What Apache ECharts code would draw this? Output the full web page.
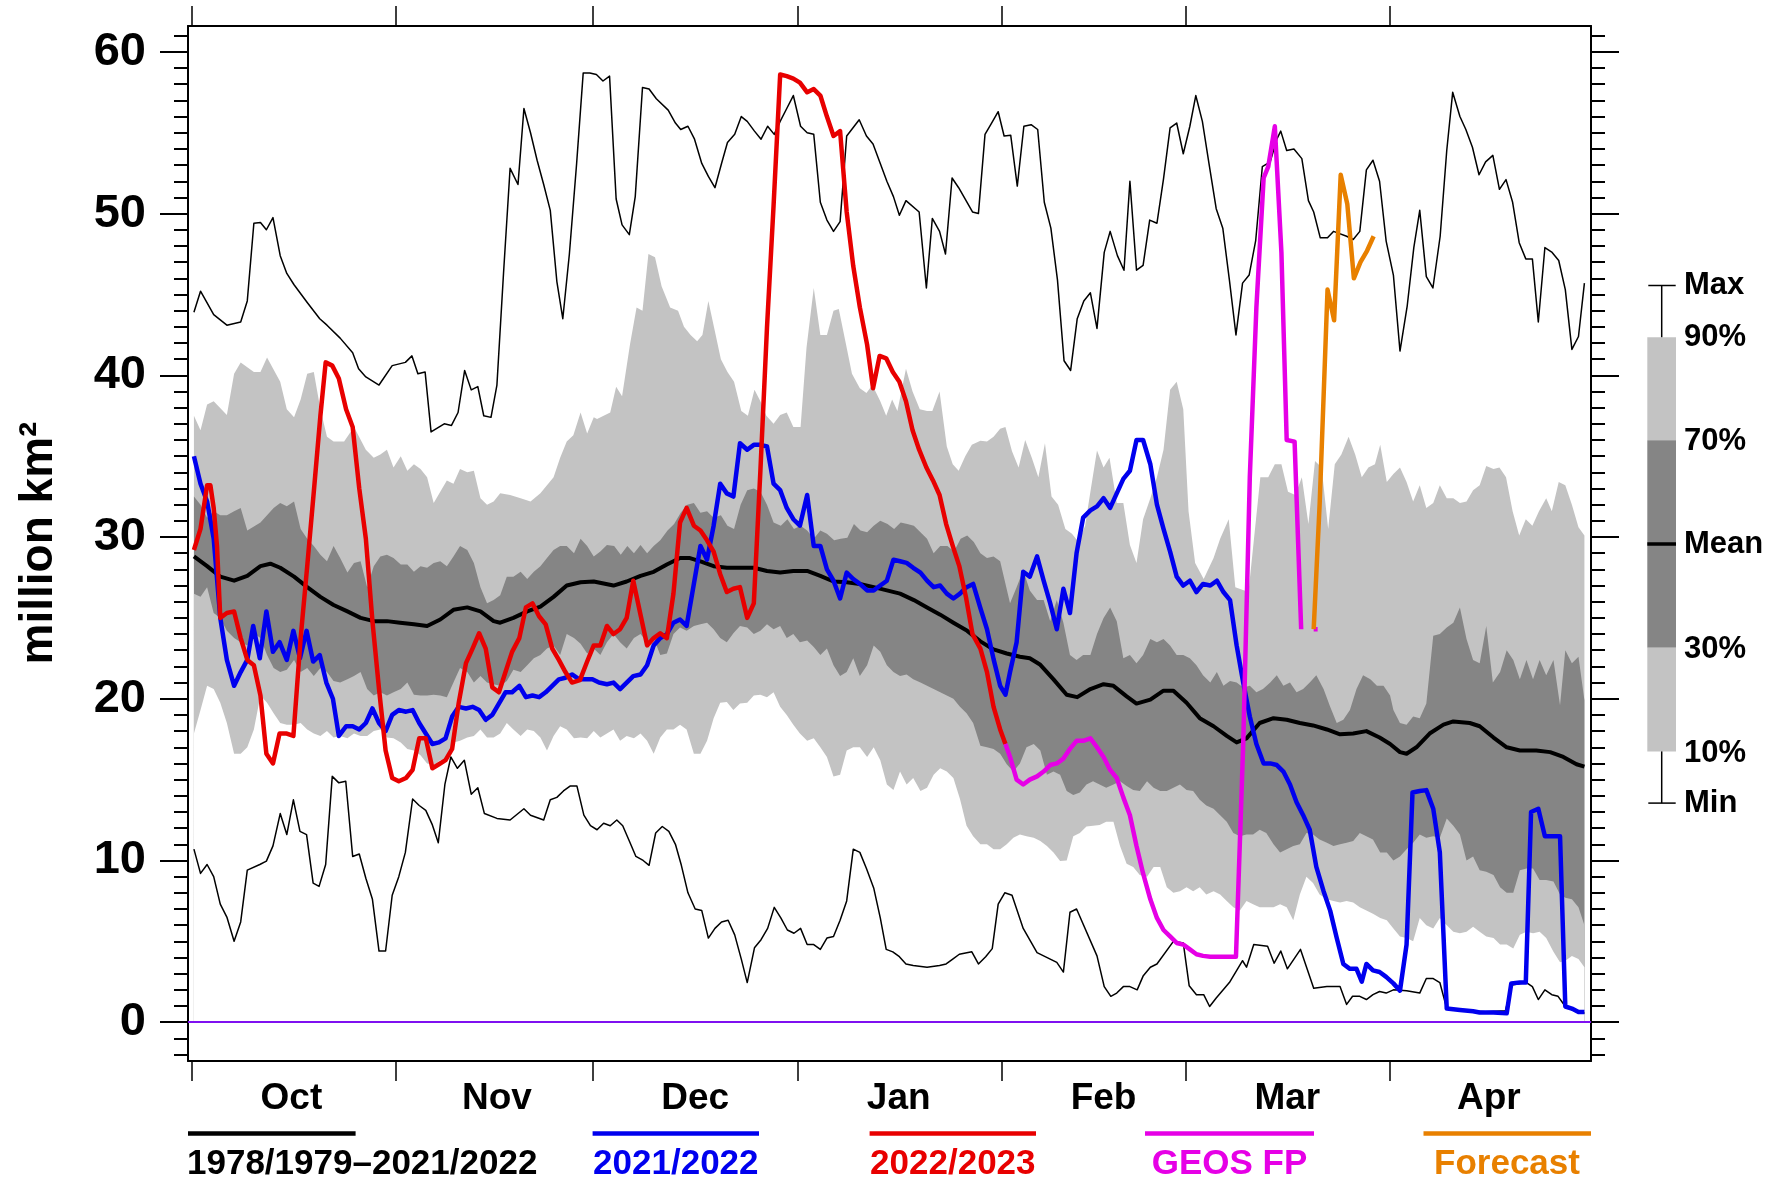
<!DOCTYPE html>
<html><head><meta charset="utf-8">
<script src="https://cdn.jsdelivr.net/npm/echarts@6/dist/echarts.min.js"></script>
<style>html,body{margin:0;padding:0;background:#fff}#c{width:1787px;height:1185px}</style>
</head><body><div id="c"></div><script>
// ---- Data (day index: Oct 1 = 1 ... Apr 30 = 212) ----
const monthNames = ['Oct','Nov','Dec','Jan','Feb','Mar','Apr'];
const monthTicks = [0.5,31.5,61.5,92.5,123.5,151.5,182.5];
const monthLabelPos = [15.7,46.9,77,107.9,139,166.9,197.5];
const yLabels = [0,10,20,30,40,50,60];
const yMinorTicks = [-2,-1,0,1,2,3,4,5,6,7,8,9,10,11,12,13,14,15,16,17,18,19,20,21,22,23,24,25,26,27,28,29,30,31,32,33,34,35,36,37,38,39,40,41,42,43,44,45,46,47,48,49,50,51,52,53,54,55,56,57,58,59,60,61];

const maxSeries = [[0.9,43.9],[1.9,45.2],[3.9,43.75],[5.9,43.1],[8.0,43.3],[9.0,44.6],[10.0,49.4],[11.0,49.45],[11.9,49.0],[12.9,49.75],[14.0,47.4],[15.0,46.3],[16.1,45.6],[18.1,44.5],[20.0,43.5],[21.1,43.1],[23.1,42.3],[25.0,41.4],[25.9,40.4],[27.0,39.9],[29.0,39.4],[31.0,40.6],[33.0,40.8],[34.0,41.2],[34.9,40.1],[36.0,40.2],[36.9,36.5],[38.9,37.0],[40.0,36.9],[41.0,37.7],[42.0,40.3],[43.0,39.1],[44.0,39.3],[44.9,37.5],[46.0,37.4],[46.9,39.4],[47.9,46.3],[48.9,52.8],[50.1,51.8],[51.0,56.5],[52.0,55.0],[53.0,53.3],[54.0,51.8],[55.0,50.2],[56.0,45.8],[56.9,43.5],[57.9,47.5],[59.0,53.1],[60.0,58.7],[61.0,58.7],[62.0,58.6],[63.0,58.2],[64.0,58.5],[65.0,50.9],[65.9,49.3],[67.0,48.7],[67.9,51.05],[69.0,57.8],[70.0,57.7],[71.1,57.1],[72.9,56.4],[74.0,55.6],[74.8,55.2],[75.9,55.4],[76.9,54.6],[78.0,53.1],[79.0,52.3],[80.0,51.6],[81.0,53.1],[81.9,54.4],[83.0,54.9],[84.0,56.0],[84.9,55.7],[86.0,55.1],[87.0,54.6],[88.0,55.4],[89.0,54.9],[89.9,55.7],[90.9,56.5],[91.9,57.3],[93.0,55.4],[94.0,55.0],[95.0,54.9],[96.0,50.7],[97.0,49.6],[98.0,48.9],[99.0,49.5],[100.0,54.8],[101.9,55.8],[103.0,54.8],[104.0,54.3],[105.1,53.1],[106.1,52.0],[107.1,51.05],[108.0,49.9],[109.0,50.8],[111.0,50.1],[112.1,45.4],[113.0,49.7],[114.1,48.9],[115.0,47.5],[116.0,52.2],[117.0,51.6],[119.1,50.1],[120.0,50.0],[121.0,54.9],[122.0,55.6],[123.0,56.3],[123.9,54.8],[124.9,54.85],[125.9,51.7],[126.9,55.4],[128.0,55.5],[129.0,55.2],[130.0,50.7],[131.0,49.1],[132.0,45.9],[133.0,40.9],[134.0,40.3],[135.0,43.5],[136.0,44.6],[137.0,45.1],[138.0,42.9],[139.1,47.6],[140.0,48.9],[141.1,47.4],[142.1,46.5],[143.0,52.0],[144.0,46.5],[145.0,46.8],[146.0,49.6],[147.1,49.4],[148.1,52.15],[149.1,55.3],[150.1,55.6],[151.1,53.7],[152.1,55.4],[153.0,57.3],[154.0,55.7],[155.0,53.1],[156.1,50.3],[157.1,49.1],[158.1,45.9],[159.1,42.5],[160.1,45.7],[161.1,46.2],[162.1,48.35],[163.1,52.9],[164.3,53.2],[165.3,54.6],[165.9,55.1],[166.8,53.9],[167.9,54.0],[169.1,53.4],[170.1,50.8],[170.9,50.1],[171.9,48.5],[173.0,48.5],[173.9,48.9],[175.9,48.6],[176.9,48.4],[177.9,48.9],[178.9,52.7],[179.9,53.3],[180.9,52.0],[181.9,48.3],[183.0,46.2],[184.0,41.5],[185.1,44.3],[186.1,47.9],[187.0,50.2],[188.0,46.1],[189.0,45.4],[190.1,48.6],[191.1,53.9],[192.0,57.5],[193.1,56.0],[194.0,55.2],[195.0,54.1],[196.0,52.4],[197.0,53.2],[198.1,53.6],[199.1,51.5],[200.1,52.1],[201.1,50.7],[202.1,48.2],[203.1,47.2],[204.1,47.2],[205.0,43.3],[206.0,47.9],[207.1,47.6],[208.1,47.1],[209.1,45.3],[210.1,41.6],[211.1,42.4],[212.0,45.7]];

const minSeries = [[0.9,10.7],[1.9,9.2],[2.9,9.75],[3.9,9.0],[4.9,7.3],[5.9,6.5],[7.0,5.0],[8.0,6.2],[9.0,9.4],[10.9,9.75],[11.9,9.96],[12.9,10.9],[14.0,12.9],[15.0,11.6],[16.0,13.75],[17.0,11.8],[18.0,11.6],[19.0,8.6],[19.9,8.4],[20.9,9.75],[21.9,15.2],[22.9,14.8],[23.95,14.9],[25.0,10.25],[26.0,10.4],[27.0,8.9],[28.0,7.6],[29.0,4.4],[30.0,4.4],[31.0,7.85],[32.0,9.0],[33.0,10.5],[34.1,13.8],[35.1,13.4],[36.1,13.1],[37.1,12.2],[38.0,11.1],[39.0,14.7],[39.9,16.4],[40.9,15.7],[41.95,16.2],[43.0,14.1],[44.0,14.5],[45.0,12.9],[46.9,12.6],[48.9,12.5],[51.0,13.2],[52.0,12.8],[54.0,12.5],[55.0,13.75],[56.0,13.9],[57.0,14.3],[58.0,14.6],[59.05,14.6],[60.1,12.8],[61.1,12.15],[62.1,11.9],[63.1,12.3],[64.1,12.15],[65.1,12.5],[66.0,12.15],[67.0,11.2],[68.0,10.25],[69.1,10.0],[70.0,9.7],[71.0,11.7],[72.0,12.1],[73.0,11.8],[74.0,11.0],[74.9,9.7],[75.9,8.0],[77.0,7.0],[78.0,6.9],[79.0,5.2],[80.0,5.8],[81.0,6.2],[82.0,6.3],[83.0,5.4],[84.0,3.9],[84.9,2.45],[86.0,4.6],[87.0,5.1],[88.0,5.8],[89.0,7.1],[90.0,6.45],[91.0,5.7],[92.0,5.5],[93.0,5.8],[94.0,4.8],[95.0,4.8],[96.0,4.5],[97.0,5.2],[98.0,5.3],[99.0,6.3],[100.0,7.5],[101.0,10.7],[102.0,10.5],[103.0,9.5],[104.1,8.3],[105.1,6.45],[106.0,4.5],[107.0,4.35],[108.0,4.05],[109.0,3.6],[110.1,3.5],[112.2,3.4],[114.1,3.5],[115.1,3.6],[116.1,3.9],[117.1,4.2],[119.0,4.35],[120.0,3.6],[121.1,4.05],[122.1,4.55],[123.0,7.3],[124.0,8.0],[125.1,7.85],[126.8,5.8],[128.9,4.3],[129.9,4.1],[131.9,3.7],[132.9,3.1],[133.9,6.8],[134.9,7.0],[138.0,4.1],[139.1,2.2],[140.1,1.6],[141.0,1.8],[142.0,2.2],[143.0,2.2],[144.1,2.0],[145.0,2.85],[146.1,3.4],[147.1,3.6],[149.6,5.0],[151.1,4.9],[152.0,2.25],[153.1,1.7],[154.2,1.7],[155.1,0.97],[156.1,1.5],[158.1,2.45],[160.1,3.8],[160.7,3.4],[161.8,4.8],[163.9,4.7],[164.9,3.65],[165.9,4.4],[166.9,3.3],[168.9,4.5],[170.9,2.1],[172.9,2.2],[174.9,2.2],[175.9,1.1],[176.8,1.6],[177.9,1.6],[178.9,1.4],[179.9,1.7],[180.9,1.9],[181.9,1.8],[183.0,2.0],[185.0,1.95],[187.0,1.8],[188.0,2.7],[189.05,2.7],[190.05,2.45],[191.1,0.84],[194.0,0.7],[197.0,0.65],[200.0,0.7],[201.0,2.3],[203.2,2.45],[204.1,2.2],[205.0,1.4],[206.0,2.0],[207.05,1.7],[208.0,1.6],[209.1,0.97],[210.1,0.76],[211.1,0.68],[212.0,0.55]];

const meanSeries = [[0.9,28.8],[2.9,28.2],[4.9,27.55],[7.0,27.3],[9.0,27.6],[11.0,28.2],[12.5,28.35],[14.0,28.1],[16.1,27.55],[18.1,26.9],[20.1,26.3],[22.1,25.8],[24.2,25.4],[26.2,25.0],[28.2,24.8],[30.2,24.8],[32.2,24.7],[34.3,24.6],[36.3,24.5],[38.3,24.9],[40.3,25.5],[42.4,25.65],[44.4,25.4],[46.4,24.8],[47.4,24.7],[49.4,25.0],[51.5,25.4],[53.5,25.7],[55.5,26.3],[57.5,27.0],[59.6,27.2],[61.6,27.25],[64.6,27.0],[66.6,27.25],[68.7,27.6],[70.7,27.85],[72.7,28.3],[74.7,28.7],[76.2,28.7],[77.8,28.5],[79.8,28.2],[81.8,28.1],[83.9,28.1],[85.9,28.1],[87.9,27.9],[89.9,27.8],[91.9,27.9],[94.0,27.9],[96.0,27.6],[98.0,27.25],[100.0,27.2],[102.0,27.1],[104.1,26.9],[106.1,26.7],[108.1,26.5],[110.2,26.1],[112.2,25.65],[114.2,25.2],[116.2,24.7],[118.3,24.2],[120.3,23.55],[122.3,23.05],[124.3,22.8],[126.3,22.6],[127.8,22.5],[129.4,22.1],[131.4,21.2],[133.4,20.25],[135.0,20.1],[137.0,20.6],[139.0,20.9],[140.5,20.8],[142.5,20.15],[144.0,19.7],[146.1,19.95],[148.1,20.5],[149.6,20.5],[151.6,19.75],[153.6,18.8],[155.7,18.3],[157.7,17.7],[159.2,17.3],[160.7,17.55],[162.7,18.5],[164.8,18.8],[166.8,18.7],[168.8,18.5],[170.8,18.35],[172.9,18.1],[174.9,17.8],[176.9,17.85],[178.9,18.0],[180.9,17.6],[182.5,17.2],[184.0,16.7],[185.0,16.6],[186.5,17.0],[188.5,17.85],[190.6,18.4],[192.1,18.6],[194.6,18.5],[196.1,18.3],[198.2,17.6],[200.2,17.0],[202.2,16.8],[204.7,16.8],[206.8,16.7],[208.8,16.4],[210.8,15.95],[212.0,15.8]];

const p90 = [[0.9,37.5],[1.9,36.6],[2.9,38.2],[3.9,38.4],[5.9,37.55],[7.0,40.1],[8.0,40.8],[10.0,40.2],[11.0,40.2],[12.0,41.1],[14.0,39.6],[15.0,37.9],[16.1,37.4],[17.1,38.5],[18.1,40.1],[19.1,40.2],[20.1,37.9],[21.1,36.2],[22.1,35.9],[23.7,35.9],[25.2,36.8],[27.0,35.4],[28.2,34.9],[29.2,35.1],[30.2,35.4],[31.2,34.3],[32.3,35.0],[33.3,34.1],[34.3,34.5],[35.3,34.2],[36.3,33.7],[37.3,32.1],[38.3,32.8],[39.3,33.5],[40.3,33.3],[41.3,34.2],[42.4,34.0],[43.4,34.1],[44.4,32.4],[45.4,32.0],[46.4,32.2],[47.4,32.7],[48.9,32.6],[50.5,32.4],[52.0,32.2],[53.5,32.7],[54.5,33.2],[55.5,33.7],[56.5,34.9],[57.5,35.9],[58.5,36.3],[59.6,37.7],[60.6,36.4],[61.6,37.4],[62.1,37.3],[63.1,37.5],[64.1,37.7],[65.0,39.3],[65.9,38.7],[67.1,41.9],[68.1,44.2],[69.0,44.0],[69.9,47.5],[70.9,47.3],[71.9,45.5],[73.2,44.2],[74.4,44.0],[75.3,43.0],[76.3,42.5],[77.3,42.1],[78.1,42.5],[79.0,44.6],[79.9,42.9],[80.9,41.0],[81.9,40.2],[82.9,39.6],[84.0,37.8],[85.0,37.5],[86.0,39.1],[86.9,38.4],[87.8,37.5],[88.9,37.0],[89.9,37.55],[90.9,37.7],[91.9,36.8],[93.0,36.8],[93.9,41.7],[95.0,45.4],[96.0,42.5],[97.0,42.5],[98.0,44.0],[98.8,44.1],[99.8,42.1],[100.8,40.1],[102.0,39.2],[103.0,38.9],[103.9,39.4],[105.1,38.4],[106.0,37.5],[106.9,38.5],[107.7,37.8],[109.0,40.4],[110.0,39.0],[111.1,37.9],[112.2,37.8],[113.0,37.8],[114.1,39.0],[115.2,35.6],[116.1,34.5],[117.0,34.1],[118.0,35.0],[119.0,35.7],[120.3,35.95],[121.3,35.9],[122.3,36.2],[123.3,36.7],[124.1,36.8],[125.1,35.3],[126.1,34.3],[127.1,36.0],[128.1,34.9],[129.1,33.7],[130.1,35.8],[131.1,32.5],[132.1,32.0],[133.2,30.5],[134.2,30.2],[135.2,29.7],[136.2,30.7],[137.0,32.8],[138.0,35.35],[139.0,34.3],[139.9,34.9],[141.0,32.1],[142.0,32.1],[143.0,29.5],[144.0,28.4],[145.0,31.1],[146.1,32.4],[147.1,33.7],[148.1,35.4],[149.1,39.1],[150.1,39.6],[151.1,37.9],[151.9,31.6],[152.9,28.4],[154.2,27.4],[155.7,28.7],[156.7,29.9],[158.0,31.1],[159.0,26.9],[161.0,26.6],[162.8,33.7],[164.0,33.7],[165.0,34.5],[166.0,34.5],[167.0,32.8],[168.1,32.6],[169.1,33.7],[170.1,30.8],[171.1,34.7],[172.1,34.3],[173.1,30.5],[174.1,34.5],[175.1,35.1],[176.2,36.2],[177.2,35.1],[178.2,33.7],[179.2,34.3],[180.2,34.5],[181.0,35.7],[182.0,33.4],[183.0,33.9],[184.0,34.3],[185.0,33.4],[186.0,32.2],[187.0,33.2],[188.0,31.8],[189.05,32.1],[190.05,33.2],[191.1,32.4],[192.1,32.4],[193.1,32.1],[194.1,32.2],[195.1,32.9],[196.1,33.2],[197.1,34.4],[198.2,34.2],[199.1,34.3],[200.1,33.7],[201.1,31.6],[202.1,30.1],[203.1,31.1],[204.1,30.7],[205.1,31.6],[206.2,32.4],[207.05,31.6],[208.1,33.4],[209.1,33.2],[210.1,32.0],[211.1,30.6],[212.0,30.1]];

const p70 = [[0.9,32.5],[1.9,32.0],[2.9,31.2],[3.9,31.6],[4.9,31.35],[5.9,31.35],[7.0,31.6],[8.0,31.8],[9.0,30.4],[11.0,30.9],[12.0,31.35],[13.0,31.8],[14.0,32.1],[15.0,31.9],[16.1,32.2],[17.1,30.5],[18.1,29.9],[19.1,29.45],[20.1,28.9],[21.1,28.5],[22.1,29.45],[23.1,28.7],[24.2,27.8],[25.2,28.4],[26.2,28.5],[27.2,26.9],[28.2,28.2],[29.2,28.8],[30.2,28.9],[31.2,28.7],[32.3,28.3],[33.3,28.3],[34.3,27.85],[35.3,28.2],[36.3,28.1],[37.3,28.4],[38.3,28.5],[39.3,28.2],[40.3,28.8],[41.3,29.45],[42.4,29.2],[43.4,28.4],[44.4,26.9],[45.4,25.9],[46.4,26.1],[47.4,26.4],[48.4,27.55],[49.4,27.55],[50.5,27.85],[51.5,27.4],[52.5,27.85],[53.5,28.2],[54.5,28.7],[55.5,29.2],[56.5,29.45],[57.5,29.45],[58.6,29.0],[59.6,29.9],[60.6,29.45],[61.6,28.8],[62.6,29.1],[63.6,29.5],[64.7,29.45],[65.7,28.9],[66.7,29.45],[67.7,29.0],[68.7,29.5],[69.7,29.0],[70.7,29.45],[71.7,29.8],[72.8,30.4],[73.8,30.8],[74.8,31.5],[75.8,32.0],[76.8,32.1],[77.8,31.5],[78.8,31.6],[79.8,31.2],[80.9,31.35],[81.9,30.7],[82.9,30.5],[83.9,32.0],[84.9,32.9],[85.9,33.0],[86.9,32.8],[87.9,32.0],[88.9,30.9],[90.0,30.7],[91.0,31.1],[92.0,30.5],[93.0,30.7],[94.0,30.4],[95.0,29.9],[96.0,30.4],[97.0,30.2],[98.1,29.8],[99.1,29.9],[100.1,29.95],[101.1,30.8],[102.1,30.4],[103.1,30.3],[104.1,30.7],[105.1,31.0],[106.2,30.8],[107.2,30.5],[108.2,30.9],[109.2,30.8],[110.2,30.7],[111.2,30.3],[112.2,29.9],[113.2,29.0],[114.2,29.45],[115.3,29.45],[116.3,29.1],[117.3,29.9],[118.3,30.1],[119.3,29.7],[120.3,29.0],[121.3,28.7],[122.3,28.8],[123.3,28.5],[124.8,25.9],[125.8,26.9],[126.8,27.95],[127.8,26.7],[128.9,26.1],[129.9,26.1],[130.9,24.8],[131.9,26.1],[132.9,24.7],[133.9,22.7],[134.9,22.4],[135.9,22.7],[137.0,22.7],[138.0,24.0],[139.0,25.0],[140.0,25.65],[141.0,24.8],[142.0,22.5],[143.0,22.7],[144.0,22.2],[145.0,22.7],[146.1,23.7],[147.1,23.5],[148.1,23.7],[149.1,23.3],[150.1,22.7],[151.1,22.7],[152.1,22.5],[153.1,22.07],[154.1,21.45],[155.2,21.0],[156.2,21.65],[157.2,20.8],[158.2,21.1],[159.2,21.0],[160.2,20.7],[161.2,20.8],[162.2,20.4],[163.2,20.6],[164.3,21.0],[165.3,21.45],[166.3,20.8],[167.3,21.0],[168.3,20.4],[169.3,20.6],[170.3,21.0],[171.3,21.45],[172.4,20.6],[173.4,19.5],[174.4,18.5],[175.4,18.7],[176.4,19.3],[177.4,20.6],[178.4,21.45],[179.5,21.2],[180.5,20.8],[181.5,20.8],[182.5,20.2],[183.0,19.3],[184.0,18.5],[185.0,18.4],[186.0,18.9],[187.0,18.8],[188.0,19.7],[189.05,23.9],[190.05,24.0],[191.1,24.4],[192.1,24.7],[193.1,25.65],[194.1,23.7],[195.1,22.4],[196.1,22.2],[197.1,24.5],[198.1,21.0],[199.2,21.65],[200.2,23.0],[201.2,22.4],[202.2,21.2],[203.2,22.4],[204.2,21.2],[205.2,22.4],[206.2,21.45],[207.3,22.4],[208.3,19.6],[209.1,23.0],[210.1,22.2],[211.1,22.6],[212.0,19.9]];

const p30 = [[0.9,26.5],[1.9,26.3],[2.9,26.9],[3.9,25.3],[4.9,25.0],[5.9,24.2],[7.0,23.75],[8.0,23.5],[9.0,23.3],[10.0,24.05],[11.0,23.75],[12.0,22.7],[13.0,21.9],[14.0,21.65],[15.0,21.8],[16.1,22.4],[17.1,21.65],[18.1,21.9],[19.1,21.4],[20.1,21.9],[21.1,21.65],[22.1,21.1],[23.1,21.0],[24.2,21.2],[25.2,21.4],[26.2,21.65],[27.2,20.6],[28.2,20.2],[29.2,20.4],[30.2,20.2],[31.2,20.4],[32.3,20.6],[33.3,21.0],[34.3,20.25],[35.3,20.2],[36.3,20.2],[37.3,20.25],[38.3,20.2],[39.3,20.1],[40.3,21.0],[41.3,21.9],[42.4,21.65],[43.4,21.0],[44.4,21.4],[45.4,21.0],[46.4,20.9],[47.4,20.8],[48.4,21.1],[49.4,21.8],[50.5,21.65],[51.5,22.07],[52.5,22.5],[53.5,22.7],[54.5,23.1],[55.5,23.3],[56.5,22.7],[57.5,24.0],[58.6,23.75],[59.6,23.4],[60.6,22.8],[61.6,23.1],[62.6,22.7],[63.6,23.5],[64.6,24.0],[65.6,23.5],[66.6,23.1],[67.7,23.75],[68.7,24.0],[69.7,23.5],[70.7,23.75],[71.7,22.7],[72.7,22.8],[73.7,24.0],[74.7,24.4],[75.7,24.2],[76.8,24.5],[77.8,24.6],[78.8,24.7],[79.8,24.3],[80.8,23.75],[81.8,23.5],[82.8,24.05],[83.8,24.5],[84.9,24.4],[85.9,24.0],[86.9,24.2],[87.9,24.6],[88.9,24.3],[89.9,24.5],[90.9,23.75],[91.9,24.0],[92.9,23.5],[94.0,23.6],[95.0,23.2],[96.0,22.7],[97.0,23.1],[98.0,22.07],[99.0,21.4],[100.0,21.65],[101.0,22.5],[102.0,21.4],[103.1,22.07],[104.1,23.3],[105.1,22.9],[106.1,22.07],[107.1,21.65],[108.1,21.4],[109.1,21.5],[110.1,21.2],[111.2,21.0],[112.2,20.8],[113.2,20.6],[114.2,20.4],[115.2,20.2],[116.2,20.0],[117.2,19.5],[118.2,19.1],[119.2,18.5],[120.3,17.1],[121.3,17.0],[122.3,16.9],[123.3,16.6],[124.3,15.95],[125.3,15.5],[126.3,16.0],[127.3,17.0],[128.4,17.2],[129.4,16.8],[130.4,15.3],[131.4,15.5],[132.4,15.3],[133.4,14.3],[134.4,14.05],[135.4,14.2],[136.4,14.7],[137.4,14.9],[138.4,14.7],[139.4,14.5],[140.5,14.7],[141.5,14.9],[142.5,14.6],[143.5,14.35],[144.5,14.3],[145.6,14.9],[146.6,14.5],[147.6,14.3],[148.6,14.3],[149.6,14.5],[150.6,14.7],[151.6,14.35],[152.6,14.3],[153.6,13.75],[154.6,13.4],[155.7,13.2],[156.7,12.8],[157.7,12.4],[158.7,11.7],[159.7,11.5],[160.7,11.6],[161.7,11.6],[162.7,11.9],[163.7,11.7],[164.8,11.0],[165.8,10.5],[166.8,10.7],[167.8,10.9],[168.8,11.0],[169.8,11.7],[170.8,11.6],[171.8,11.3],[172.9,11.1],[173.9,10.9],[174.9,11.0],[175.9,11.1],[176.9,11.2],[177.9,11.7],[178.9,11.5],[179.9,11.3],[181.0,10.5],[182.0,10.5],[183.0,10.0],[184.0,10.25],[185.0,10.7],[186.0,11.1],[187.0,11.6],[188.0,11.4],[189.05,11.5],[190.05,11.4],[191.1,12.6],[192.1,12.15],[193.1,11.6],[194.1,10.0],[195.1,10.25],[196.1,9.4],[197.1,9.3],[198.2,9.1],[199.2,8.35],[200.2,8.0],[201.2,8.0],[202.2,9.4],[203.2,9.5],[204.2,9.5],[205.2,8.8],[206.2,8.8],[207.3,8.7],[208.3,7.9],[209.1,7.7],[210.1,7.6],[211.1,7.1],[212.0,6.0]];

const p10 = [[0.9,17.85],[1.9,19.3],[2.9,20.8],[3.9,20.6],[4.9,19.75],[5.9,18.5],[7.0,16.6],[8.0,16.6],[9.0,17.0],[10.0,18.1],[11.0,20.2],[12.0,19.75],[13.0,19.1],[14.0,18.5],[15.0,18.4],[16.1,18.4],[17.1,18.5],[18.1,18.1],[19.1,17.85],[20.1,17.7],[21.1,18.0],[22.1,17.6],[23.1,17.7],[24.2,17.55],[25.2,17.85],[26.2,17.7],[27.2,17.7],[28.2,18.0],[29.2,18.1],[30.2,17.6],[31.2,17.55],[32.3,17.3],[33.3,16.9],[34.3,16.8],[35.3,16.5],[36.3,16.0],[37.3,15.9],[38.3,16.2],[39.3,16.3],[40.3,17.3],[41.3,17.4],[42.4,17.6],[43.4,17.7],[44.4,18.1],[45.4,17.6],[46.4,17.6],[47.4,17.85],[48.4,18.5],[49.4,18.1],[50.5,17.7],[51.5,18.1],[52.5,18.0],[53.5,17.6],[54.5,16.8],[55.5,17.7],[56.5,18.3],[57.5,18.1],[58.6,17.55],[59.6,17.6],[60.6,17.55],[61.6,18.0],[62.6,17.6],[63.6,17.85],[64.6,18.1],[65.6,17.4],[66.6,17.7],[67.7,17.55],[68.7,17.85],[69.7,17.4],[70.7,16.6],[71.7,17.6],[72.7,18.1],[73.7,18.1],[74.7,18.4],[75.7,18.1],[76.8,16.6],[77.8,16.6],[78.8,17.4],[79.8,18.8],[80.8,19.75],[81.8,19.8],[82.8,19.3],[83.8,19.7],[84.9,19.75],[85.9,20.2],[86.9,20.25],[87.9,20.1],[88.9,20.4],[89.9,19.5],[90.9,19.0],[91.9,18.4],[92.9,17.85],[94.0,17.4],[95.0,17.55],[96.0,17.0],[97.0,16.4],[98.0,15.2],[99.0,15.3],[100.0,16.8],[101.0,17.0],[102.0,17.0],[103.1,16.4],[104.1,17.0],[105.1,16.2],[106.1,14.7],[107.1,14.35],[108.1,15.5],[109.1,14.7],[110.1,15.1],[111.2,14.3],[112.2,14.5],[113.2,15.3],[114.2,15.7],[115.2,15.5],[116.2,15.1],[117.2,13.8],[118.2,12.15],[119.2,11.5],[120.3,11.0],[121.3,11.0],[122.3,10.7],[123.3,10.7],[124.3,11.0],[125.3,11.4],[126.3,11.6],[127.3,11.5],[128.4,11.4],[129.4,11.2],[130.4,10.9],[131.4,10.5],[132.4,9.96],[133.4,10.0],[134.4,11.5],[135.4,11.7],[136.4,12.1],[137.4,12.15],[138.4,12.2],[139.4,12.4],[140.5,12.4],[141.5,10.9],[142.5,9.8],[143.5,9.6],[144.5,9.1],[145.6,9.0],[146.6,9.6],[147.6,9.6],[148.6,8.35],[149.6,8.0],[150.6,8.1],[151.6,8.35],[152.6,8.1],[153.6,8.35],[154.6,7.9],[155.7,8.1],[156.7,7.9],[157.7,7.5],[158.7,7.1],[159.7,6.9],[160.7,7.5],[161.7,7.3],[162.7,7.1],[163.7,7.1],[164.8,7.1],[165.8,7.3],[166.8,7.1],[167.8,6.3],[168.8,7.9],[169.8,9.0],[170.8,8.6],[171.8,7.9],[172.9,7.6],[173.9,7.5],[174.9,7.4],[175.9,7.5],[176.9,7.4],[177.9,7.1],[178.9,6.9],[179.9,6.7],[181.0,6.45],[182.0,6.3],[183.0,5.8],[184.0,5.3],[185.0,5.2],[186.0,5.0],[187.0,6.45],[188.0,6.0],[189.05,5.8],[190.05,6.45],[191.1,6.0],[192.1,5.6],[193.1,5.5],[194.1,5.6],[195.1,5.9],[196.1,5.6],[197.1,5.3],[198.2,5.2],[199.2,4.8],[200.2,4.8],[201.2,4.55],[202.2,5.4],[203.2,5.6],[204.2,5.5],[205.2,5.6],[206.2,5.2],[207.3,4.35],[208.3,3.7],[209.1,3.8],[210.1,4.1],[211.1,3.9],[212.0,3.4]];

const season2122 = [[0.9,35.0],[1.9,33.3],[2.9,32.2],[3.9,29.9],[4.9,25.0],[5.9,22.4],[7.0,20.8],[8.0,21.65],[9.0,22.4],[9.9,24.5],[10.9,22.5],[11.9,25.4],[12.9,22.9],[13.9,23.5],[15.0,22.4],[16.0,24.2],[17.0,22.5],[18.0,24.2],[19.0,22.3],[20.0,22.7],[21.0,21.0],[22.0,20.0],[22.9,17.7],[24.0,18.3],[25.0,18.3],[26.0,18.1],[27.0,18.5],[28.0,19.4],[29.0,18.5],[30.0,18.0],[31.0,19.0],[32.0,19.3],[33.1,19.2],[34.1,19.3],[35.1,18.5],[36.1,17.85],[37.1,17.2],[38.1,17.3],[39.1,17.55],[40.1,18.9],[41.1,19.5],[42.2,19.4],[43.2,19.5],[44.2,19.3],[45.2,18.7],[46.2,19.0],[47.2,19.7],[48.2,20.4],[49.2,20.4],[50.3,20.8],[51.3,20.1],[52.3,20.2],[53.3,20.1],[54.3,20.4],[55.3,20.8],[56.3,21.2],[57.3,21.3],[58.3,21.5],[59.4,21.2],[60.4,21.2],[61.4,21.2],[62.4,21.0],[63.6,20.9],[64.6,21.0],[65.6,20.6],[66.6,21.0],[67.6,21.4],[68.7,21.5],[69.7,22.07],[70.7,23.3],[71.7,23.75],[72.7,24.0],[73.7,24.7],[74.7,24.9],[75.7,24.5],[76.8,27.1],[77.8,29.45],[78.8,28.6],[79.8,30.7],[80.8,33.3],[81.8,32.7],[82.8,32.5],[83.8,35.8],[84.9,35.4],[85.9,35.7],[86.9,35.7],[87.9,35.6],[88.9,33.3],[89.9,32.9],[90.9,31.8],[91.9,31.1],[92.9,30.7],[94.0,32.6],[95.0,29.45],[96.0,29.45],[97.0,28.0],[98.0,27.3],[99.0,26.2],[100.0,27.8],[101.0,27.4],[102.0,27.1],[103.1,26.7],[104.1,26.7],[105.1,27.0],[106.1,27.3],[107.1,28.6],[108.1,28.5],[109.1,28.4],[110.1,28.1],[111.2,27.8],[112.2,27.3],[113.2,26.9],[114.2,27.0],[115.2,26.5],[116.2,26.2],[117.2,26.5],[118.2,26.9],[119.2,27.1],[120.3,25.6],[121.3,24.3],[122.3,22.45],[123.3,20.8],[124.1,20.25],[124.8,21.65],[125.8,23.5],[126.8,27.85],[127.8,27.55],[128.9,28.8],[129.9,27.3],[130.9,25.9],[131.9,24.3],[132.9,26.8],[133.9,25.3],[134.9,29.0],[135.9,31.2],[137.0,31.65],[138.0,31.9],[139.0,32.4],[140.0,31.8],[141.0,32.7],[142.0,33.6],[143.0,34.1],[144.0,36.0],[145.0,36.0],[146.1,34.5],[147.1,32.0],[148.1,30.5],[149.1,29.1],[150.1,27.55],[151.1,27.0],[152.1,27.3],[153.1,26.6],[154.1,27.1],[155.2,27.0],[156.2,27.3],[157.2,26.6],[158.2,26.1],[159.2,23.3],[160.2,21.0],[161.2,18.9],[162.2,17.2],[163.3,16.0],[164.3,16.0],[165.3,15.9],[166.3,15.5],[167.3,14.7],[168.3,13.6],[169.3,12.8],[170.3,11.9],[171.3,9.6],[172.4,8.1],[173.4,6.9],[174.4,5.2],[175.4,3.6],[176.4,3.3],[177.4,3.3],[178.2,2.5],[178.9,3.6],[179.9,3.2],[180.9,3.1],[181.9,2.8],[183.0,2.4],[184.0,1.95],[185.0,4.8],[185.9,14.2],[187.0,14.3],[188.0,14.35],[189.05,13.2],[190.05,10.5],[191.1,0.84],[193.1,0.76],[195.1,0.68],[196.1,0.6],[198.2,0.6],[200.2,0.55],[200.9,2.4],[202.2,2.45],[203.1,2.45],[203.9,13.0],[205.0,13.2],[206.0,11.5],[207.05,11.5],[208.3,11.5],[209.1,0.97],[210.1,0.84],[211.1,0.63],[212.0,0.63]];

const season2223 = [[0.9,29.2],[1.9,30.5],[2.9,33.2],[3.4,33.2],[3.9,31.8],[4.4,29.45],[4.9,25.0],[5.9,25.3],[7.0,25.4],[8.0,23.75],[9.0,22.4],[10.0,22.07],[11.0,20.2],[11.9,16.6],[12.9,16.0],[13.9,17.85],[15.0,17.85],[16.0,17.7],[17.1,23.75],[18.1,28.2],[19.1,32.8],[20.1,37.5],[20.9,40.8],[21.9,40.6],[22.9,39.8],[24.0,37.9],[25.0,36.8],[26.0,33.0],[27.0,29.9],[28.0,24.8],[29.0,20.6],[30.0,16.8],[31.0,15.1],[32.0,14.9],[33.1,15.1],[34.1,15.6],[35.1,17.55],[36.1,17.55],[37.1,15.7],[38.1,15.95],[39.1,16.2],[40.1,16.9],[41.1,19.75],[42.2,22.2],[43.2,23.1],[44.2,24.05],[45.2,23.1],[46.2,20.7],[47.2,20.4],[48.2,21.65],[49.2,22.9],[50.3,23.75],[51.3,25.65],[52.3,25.9],[53.3,25.1],[54.3,24.6],[55.3,23.1],[56.3,22.4],[57.3,21.65],[58.3,21.0],[59.5,21.15],[60.6,22.3],[61.6,23.3],[62.6,23.3],[63.6,24.5],[64.6,24.0],[65.6,24.3],[66.6,25.0],[67.6,27.3],[68.7,25.2],[69.7,23.3],[70.7,23.75],[71.7,24.05],[72.7,23.75],[73.7,26.5],[74.7,30.9],[75.7,31.8],[76.8,30.7],[77.8,30.4],[78.8,29.8],[79.8,29.1],[80.8,27.7],[81.8,26.6],[82.8,26.8],[83.8,26.9],[84.9,25.0],[85.9,25.9],[86.9,34.1],[87.9,42.95],[88.9,50.5],[89.9,58.6],[90.9,58.5],[91.9,58.35],[92.9,58.1],[94.0,57.5],[95.0,57.7],[96.0,57.3],[97.0,56.0],[98.0,54.8],[99.0,55.1],[100.0,50.1],[101.0,46.75],[102.0,44.2],[103.1,41.9],[104.0,39.2],[105.0,41.2],[106.0,41.05],[107.0,40.2],[108.0,39.6],[109.0,38.4],[110.0,36.6],[111.0,35.4],[112.1,34.3],[113.1,33.5],[114.1,32.6],[115.1,30.8],[116.1,29.45],[117.1,28.2],[118.1,26.3],[119.1,24.0],[120.3,23.1],[121.3,21.65],[122.3,19.5],[123.3,18.1],[124.1,17.2]];

const geosFP = [[124.1,17.2],[124.8,16.4],[125.8,15.0],[126.8,14.7],[127.8,15.0],[128.9,15.2],[129.9,15.5],[130.9,15.9],[131.9,16.0],[132.9,16.3],[133.9,16.9],[134.9,17.4],[135.9,17.4],[137.0,17.55],[138.0,17.0],[139.0,16.4],[140.0,15.6],[141.0,15.1],[142.0,13.9],[143.0,12.8],[144.0,10.9],[145.0,9.2],[146.1,7.6],[147.1,6.45],[148.1,5.7],[149.1,5.3],[150.1,4.9],[151.1,4.8],[152.1,4.5],[153.1,4.2],[154.1,4.1],[155.2,4.05],[156.2,4.05],[157.2,4.05],[158.2,4.05],[159.1,4.05],[160.2,17.2],[161.2,33.7],[162.2,44.2],[163.3,52.2],[164.0,52.9],[165.0,55.4],[166.0,47.6],[166.8,36.0],[168.0,35.9],[169.0,24.3]];
const geosFPTail = [[170.9,24.3],[171.5,24.3]];
const forecast = [[170.9,24.3],[171.8,32.0],[173.0,45.3],[174.0,43.4],[175.0,52.4],[176.0,50.6],[177.0,46.0],[178.0,47.0],[179.0,47.7],[180.0,48.6]];

// ---- Styling ----
const FONT = '"Liberation Sans", Arial, Helvetica, sans-serif';
const LIGHT = '#c3c3c3', DARK = '#858585';
const C_BLUE = '#0000ee', C_RED = '#e80000', C_MAG = '#e600e6', C_ORG = '#e88000', C_ZERO = '#7f10f0';

function band(data, color) {
  return {type:'line', data, symbol:'none', silent:true, lineStyle:{width:0, opacity:0},
          areaStyle:{color, opacity:1}, xAxisIndex:0, yAxisIndex:0};
}
function ln(name, data, color, width) {
  return {type:'line', name, data, symbol:'none', silent:true, lineStyle:{color, width, join:'round'},
          xAxisIndex:0, yAxisIndex:0};
}

const yBase = {type:'value', min:-2.4, max:61.6, splitLine:{show:false}};
const chart = echarts.init(document.getElementById('c'), null, {renderer:'canvas'});

const option = {
  animation:false,
  backgroundColor:'#fff',
  grid:{left:188, right:196, top:26, bottom:124, containLabel:false},
  xAxis:[
    {type:'value', min:0, max:213, position:'bottom',
     axisLine:{show:true, onZero:false, lineStyle:{color:'#000', width:2}},
     axisTick:{show:true, customValues:monthTicks, length:20, lineStyle:{color:'#000', width:1.5}},
     axisLabel:{show:true, customValues:monthLabelPos,
       formatter:(v)=>{ let i=0,b=1e9; monthLabelPos.forEach((p,k)=>{const d=Math.abs(p-v); if(d<b){b=d;i=k;}}); return monthNames[i]; },
       fontFamily:FONT, fontWeight:'bold', fontSize:37, color:'#000', margin:38, verticalAlign:'middle'},
     splitLine:{show:false}},
    {type:'value', min:0, max:213, position:'top',
     axisLine:{show:true, onZero:false, lineStyle:{color:'#000', width:2}},
     axisTick:{show:true, customValues:monthTicks, length:20, lineStyle:{color:'#000', width:1.5}},
     axisLabel:{show:false}, splitLine:{show:false}}
  ],
  yAxis:[
    Object.assign({}, yBase, {position:'left',
      axisLine:{show:true, onZero:false, lineStyle:{color:'#000', width:2}},
      axisTick:{show:true, customValues:yLabels, length:28, lineStyle:{color:'#000', width:2}},
      axisLabel:{show:true, customValues:yLabels, fontFamily:FONT, fontWeight:'bold', fontSize:47, color:'#000', margin:42}}),
    Object.assign({}, yBase, {position:'left',
      axisLine:{show:false, onZero:false},
      axisTick:{show:true, customValues:yMinorTicks, length:14, lineStyle:{color:'#000', width:2}},
      axisLabel:{show:false}}),
    Object.assign({}, yBase, {position:'right',
      axisLine:{show:true, onZero:false, lineStyle:{color:'#000', width:2}},
      axisTick:{show:true, customValues:yLabels, length:28, lineStyle:{color:'#000', width:2}},
      axisLabel:{show:false}}),
    Object.assign({}, yBase, {position:'right',
      axisLine:{show:false, onZero:false},
      axisTick:{show:true, customValues:yMinorTicks, length:14, lineStyle:{color:'#000', width:2}},
      axisLabel:{show:false}})
  ],
  series:[
    band(p90, LIGHT),
    band(p70, DARK),
    band(p30, LIGHT),
    Object.assign(band(p10, '#ffffff'), {
      markLine:{silent:true, symbol:'none', label:{show:false},
        lineStyle:{color:C_ZERO, width:2, type:'solid'}, data:[{yAxis:0}]}}),
    ln('Max', maxSeries, '#000', 1.5),
    ln('Min', minSeries, '#000', 1.5),
    ln('Mean', meanSeries, '#000', 4),
    ln('2021/2022', season2122, C_BLUE, 4.5),
    ln('2022/2023', season2223, C_RED, 4.5),
    ln('GEOS FP', geosFP, C_MAG, 4.5),
    ln('GEOS FP tail', geosFPTail, C_MAG, 4.5),
    ln('Forecast', forecast, C_ORG, 4.5)
  ],
  graphic:[
    {type:'text', x:39, y:543, rotation:Math.PI/2,
     style:{text:'million km\u00B2', font:'bold 46px '+FONT, fill:'#000', textAlign:'center', textVerticalAlign:'middle'}},
    // right-side percentile key
    {type:'rect', shape:{x:1647.3, y:337.2, width:28.7, height:103}, style:{fill:LIGHT}},
    {type:'rect', shape:{x:1647.3, y:440.2, width:28.7, height:207.5}, style:{fill:DARK}},
    {type:'rect', shape:{x:1647.3, y:647.7, width:28.7, height:103.7}, style:{fill:LIGHT}},
    {type:'line', shape:{x1:1647.3, y1:544, x2:1676, y2:544}, style:{stroke:'#000', lineWidth:3.5}},
    {type:'line', shape:{x1:1661.7, y1:285.5, x2:1661.7, y2:337.2}, style:{stroke:'#000', lineWidth:1.5}},
    {type:'line', shape:{x1:1648.3, y1:285.5, x2:1675.7, y2:285.5}, style:{stroke:'#000', lineWidth:1.5}},
    {type:'line', shape:{x1:1661.7, y1:751.4, x2:1661.7, y2:803.1}, style:{stroke:'#000', lineWidth:1.5}},
    {type:'line', shape:{x1:1648.3, y1:803.1, x2:1675.7, y2:803.1}, style:{stroke:'#000', lineWidth:1.5}},
    {type:'text', x:1684, y:285.5, style:{text:'Max', font:'bold 31px '+FONT, fill:'#000', textAlign:'left', textVerticalAlign:'middle'}},
    {type:'text', x:1684, y:337, style:{text:'90%', font:'bold 31px '+FONT, fill:'#000', textAlign:'left', textVerticalAlign:'middle'}},
    {type:'text', x:1684, y:441.5, style:{text:'70%', font:'bold 31px '+FONT, fill:'#000', textAlign:'left', textVerticalAlign:'middle'}},
    {type:'text', x:1684, y:544, style:{text:'Mean', font:'bold 31px '+FONT, fill:'#000', textAlign:'left', textVerticalAlign:'middle'}},
    {type:'text', x:1684, y:649, style:{text:'30%', font:'bold 31px '+FONT, fill:'#000', textAlign:'left', textVerticalAlign:'middle'}},
    {type:'text', x:1684, y:753, style:{text:'10%', font:'bold 31px '+FONT, fill:'#000', textAlign:'left', textVerticalAlign:'middle'}},
    {type:'text', x:1684, y:803.5, style:{text:'Min', font:'bold 31px '+FONT, fill:'#000', textAlign:'left', textVerticalAlign:'middle'}},
    // bottom legend
    {type:'line', shape:{x1:188, y1:1133.5, x2:355.6, y2:1133.5}, style:{stroke:'#000', lineWidth:4.7}},
    {type:'line', shape:{x1:592.6, y1:1133.5, x2:759, y2:1133.5}, style:{stroke:C_BLUE, lineWidth:4.7}},
    {type:'line', shape:{x1:869.6, y1:1133.5, x2:1036, y2:1133.5}, style:{stroke:C_RED, lineWidth:4.7}},
    {type:'line', shape:{x1:1145, y1:1133.5, x2:1314, y2:1133.5}, style:{stroke:C_MAG, lineWidth:4.7}},
    {type:'line', shape:{x1:1423.5, y1:1133.5, x2:1591, y2:1133.5}, style:{stroke:C_ORG, lineWidth:4.7}},
    {type:'text', x:187, y:1164, style:{text:'1978/1979\u20132021/2022', font:'bold 35px '+FONT, fill:'#000', textAlign:'left', textVerticalAlign:'middle'}},
    {type:'text', x:675.8, y:1164, style:{text:'2021/2022', font:'bold 35px '+FONT, fill:C_BLUE, textAlign:'center', textVerticalAlign:'middle'}},
    {type:'text', x:952.8, y:1164, style:{text:'2022/2023', font:'bold 35px '+FONT, fill:C_RED, textAlign:'center', textVerticalAlign:'middle'}},
    {type:'text', x:1229.5, y:1164, style:{text:'GEOS FP', font:'bold 35px '+FONT, fill:C_MAG, textAlign:'center', textVerticalAlign:'middle'}},
    {type:'text', x:1507, y:1164, style:{text:'Forecast', font:'bold 35px '+FONT, fill:C_ORG, textAlign:'center', textVerticalAlign:'middle'}}
  ]
};
chart.setOption(option);
</script></body></html>
